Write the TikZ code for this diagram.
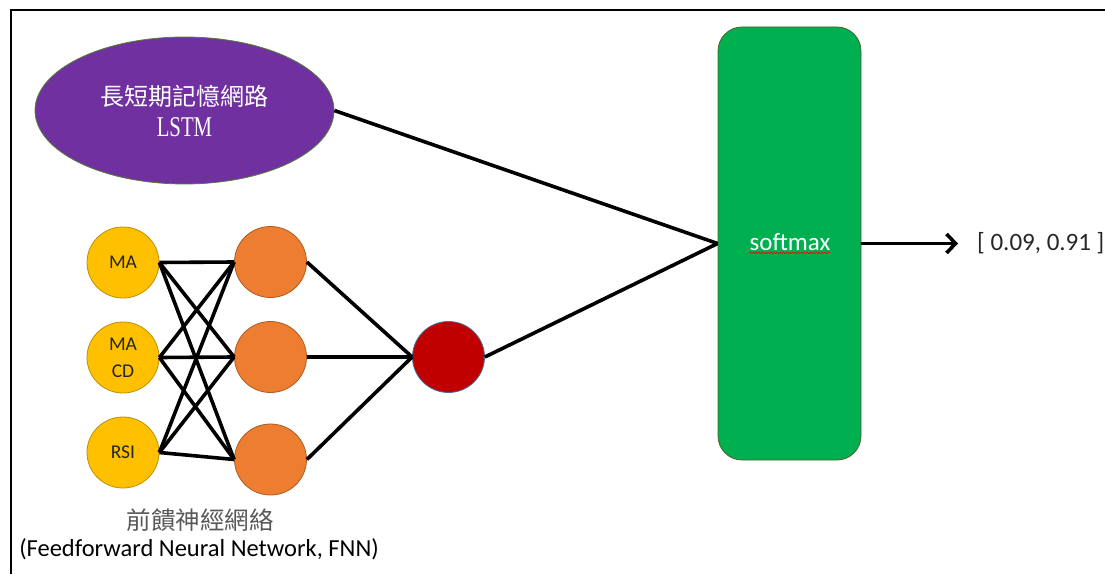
\documentclass[tikz,border=0pt]{standalone}
\usepackage{fontspec}
\setmainfont{Carlito}
\newfontfamily\cjk{Noto Sans CJK TC}
\newfontfamily\serifen{Liberation Serif}
\usetikzlibrary{arrows.meta,shapes.geometric,decorations.pathmorphing}

\definecolor{lstmfill}{HTML}{7030A0}
\definecolor{lstmline}{HTML}{548235}
\definecolor{softfill}{HTML}{00B050}
\definecolor{softline}{HTML}{4F6228}
\definecolor{infill}{HTML}{FFC000}
\definecolor{inline}{HTML}{BF9000}
\definecolor{hidfill}{HTML}{ED7D31}
\definecolor{hidline}{HTML}{AE5A21}
\definecolor{outfill}{HTML}{C00000}
\definecolor{outline}{HTML}{41719C}
\definecolor{labeltext}{HTML}{262626}
\definecolor{captiongray}{HTML}{595959}

\tikzset{
  unit/.style={ellipse, minimum width=72pt, minimum height=71pt, inner sep=0pt, line width=0.8pt},
  inputunit/.style={unit, draw=inline, fill=infill, text=labeltext,
    font=\fontsize{19.5}{27}\selectfont, align=center},
  hiddenunit/.style={unit, draw=hidline, fill=hidfill},
  outunit/.style={unit, draw=outline, fill=outfill},
  conn/.style={line width=3.6pt, black},
  arrowconn/.style={conn, -{Straight Barb[length=9pt, width=19pt, line width=3.6pt]}}
}

\begin{document}
\begin{tikzpicture}[x=1pt, y=-1pt]
\useasboundingbox (0,0) rectangle (1105,575);

% frame
\draw[line width=2pt] (11,574) -- (11,10) -- (1105,10);

% LSTM branch
\node[ellipse, draw=lstmline, fill=lstmfill, line width=0.8pt,
      minimum width=299pt, minimum height=147pt, inner sep=0pt,
      text=white, align=center, font=\fontsize{24}{31}\selectfont] (lstm) at (184.5,110.5)
  {{\cjk 長短期記憶網路}\\
   {\serifen\fontsize{26}{31}\selectfont\scalebox{0.8}[1.1]{LSTM}}};

% softmax layer
\node[rectangle, rounded corners=24pt, draw=softline, fill=softfill, line width=0.8pt,
      minimum width=143pt, minimum height=433pt, inner sep=0pt] (soft) at (789.5,243.5) {};
\node[text=white, font=\fontsize{25}{28}\selectfont, inner sep=0pt] (softlbl) at (790,242) {softmax};
\draw[red, line width=0.6pt, decorate,
      decoration={snake, amplitude=0.9pt, segment length=3pt}]
  ([yshift=-2pt]softlbl.south west) -- ([yshift=-2pt]softlbl.south east);

% output
\coordinate (outtip) at (958,243.5);
\node[anchor=west, font=\fontsize{25}{28}\selectfont, text=labeltext, inner sep=0pt] (result) at (977,243.5) {[ 0.09, 0.91 ]};
\draw[arrowconn] (soft.east) -- (outtip);

% feedforward network
\node[inputunit] (ma)   at (123,262.5) {MA};
\node[inputunit] (macd) at (123,357.5) {MA\\CD};
\node[inputunit] (rsi)  at (123,452.5) {RSI};

\node[hiddenunit] (h1) at (270.5,262) {};
\node[hiddenunit] (h2) at (270.5,357) {};
\node[hiddenunit] (h3) at (270.5,459.5) {};

\node[outunit] (fnn) at (448.5,357) {};

\foreach \i in {ma,macd,rsi}{
  \foreach \h in {h1,h2,h3}{
    \draw[conn] (\i.east) -- (\h.west);
  }
}
\foreach \h in {h1,h2,h3}{
  \draw[conn] (\h.east) -- (fnn.west);
}

% branches into softmax
\draw[conn] (lstm.east) -- (soft.west);
\draw[conn] (fnn.east) -- (soft.west);

% caption
\node[font=\cjk\fontsize{24.5}{28}\selectfont, text=captiongray, inner sep=0pt] (capzh) at (200,520) {前饋神經網絡};
\node[font=\fontsize{24.5}{28}\selectfont, text=black, inner sep=0pt] (capen) at (199,549) {(Feedforward Neural Network, FNN)};

\end{tikzpicture}
\end{document}
